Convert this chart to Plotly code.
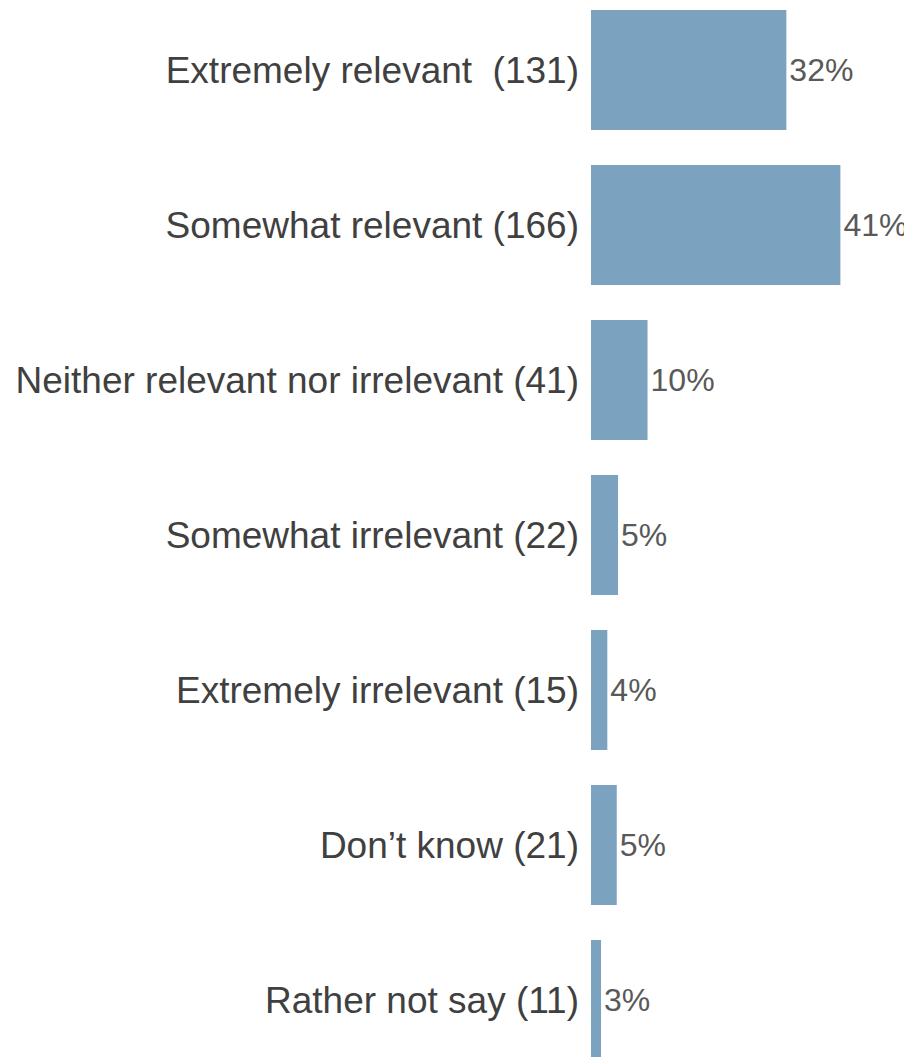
import plotly.graph_objects as go

categories = [
    "Extremely relevant \u00a0(131)",
    "Somewhat relevant (166)",
    "Neither relevant nor irrelevant (41)",
    "Somewhat irrelevant (22)",
    "Extremely irrelevant (15)",
    "Don\u2019t know (21)",
    "Rather not say (11)",
]
percent_values = [32.2, 40.8, 10.1, 5.4, 3.7, 5.2, 2.7]
percent_labels = ["32%", "41%", "10%", "5%", "4%", "5%", "3%"]

positions = list(range(len(categories)))

FONT = "Liberation Sans, Arial, sans-serif"

fig = go.Figure(
    go.Bar(
        x=percent_values,
        y=positions,
        orientation="h",
        marker=dict(color="#7BA2BF", line=dict(width=0)),
        text=percent_labels,
        textposition="outside",
        textfont=dict(family=FONT, size=32, color="#595959"),
        cliponaxis=False,
        hoverinfo="skip",
    )
)

fig.update_layout(
    width=912,
    height=1049,
    margin=dict(l=583, r=8, t=0, b=0),
    paper_bgcolor="white",
    plot_bgcolor="white",
    bargap=0.226,
    showlegend=False,
    font=dict(family=FONT),
    xaxis=dict(
        range=[1.1, 52.2],
        visible=False,
        showgrid=False,
        zeroline=False,
    ),
    yaxis=dict(
        range=[6.368, -0.4],
        tickvals=positions,
        ticktext=categories,
        tickfont=dict(family=FONT, size=37, color="#404040"),
        ticks="",
        showgrid=False,
        zeroline=False,
        showline=False,
        automargin=False,
        ticklabelstandoff=11,
    ),
)

fig.write_html("out.html")
